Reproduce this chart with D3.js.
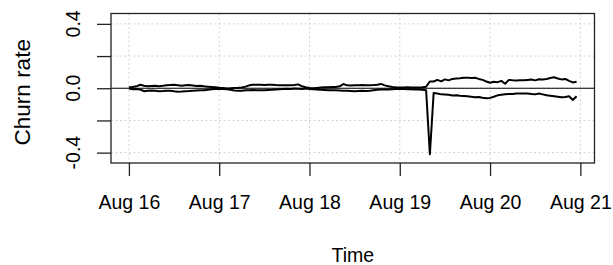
<!DOCTYPE html>
<html>
<head>
<meta charset="utf-8">
<script src="https://cdn.jsdelivr.net/npm/d3@7"></script>
<style>
  body { margin: 0; background: #fff; }
  text { font-family: "Liberation Sans", Arial, Helvetica, sans-serif; fill: #000; }
</style>
</head>
<body>
<div id="chart"></div>
<script>
// hourly churn rate, Aug 16 00:00 onwards
const startTime = "2018-08-16T00:00:00Z"

const churnUp = [
  0.004, 0.008, 0.012, 0.022, 0.016, 0.012, 0.014, 0.016, 0.013, 0.015, 0.018, 0.020,
  0.021, 0.019, 0.016, 0.018, 0.020, 0.017, 0.014, 0.015, 0.012, 0.010, 0.008, 0.006,
  0.003, 0.001, -0.001, 0.000, 0.002, 0.003, 0.005, 0.010, 0.018, 0.022, 0.021, 0.022,
  0.020, 0.021, 0.022, 0.020, 0.019, 0.018, 0.019, 0.018, 0.020, 0.024, 0.012, 0.006,
  0.002, 0.000, 0.002, 0.004, 0.006, 0.006, 0.007, 0.008, 0.012, 0.026, 0.018, 0.017,
  0.019, 0.018, 0.020, 0.018, 0.019, 0.020, 0.022, 0.027, 0.018, 0.012, 0.008, 0.006,
  0.005, 0.004, 0.006, 0.004, 0.005, 0.004, 0.006, 0.010,
  0.042, 0.042, 0.052, 0.043, 0.055, 0.049, 0.058, 0.061, 0.062, 0.065, 0.066, 0.063,
  0.065, 0.058, 0.052, 0.042, 0.034, 0.040, 0.038, 0.046, 0.028, 0.052, 0.049, 0.048,
  0.049, 0.050, 0.052, 0.054, 0.049, 0.056, 0.055, 0.058, 0.064, 0.068, 0.061, 0.055,
  0.058, 0.046, 0.036, 0.041
]

const churnDown = [
  -0.002, -0.006, -0.004, -0.008, -0.018, -0.016, -0.014, -0.016, -0.018, -0.017, -0.015, -0.016,
  -0.019, -0.021, -0.020, -0.018, -0.017, -0.015, -0.014, -0.013, -0.012, -0.010, -0.006, -0.004,
  -0.003, -0.004, -0.006, -0.010, -0.014, -0.016, -0.015, -0.012, -0.012, -0.011, -0.012, -0.013,
  -0.012, -0.011, -0.010, -0.008, -0.006, -0.004, -0.003, -0.004, -0.002, -0.003, -0.004, -0.002,
  -0.004, -0.006, -0.008, -0.010, -0.011, -0.012, -0.012, -0.013, -0.014, -0.015, -0.016, -0.017,
  -0.018, -0.017, -0.016, -0.017, -0.016, -0.013, -0.010, -0.008, -0.007, -0.008, -0.006, -0.004,
  -0.004, -0.005, -0.006, -0.006, -0.007, -0.008, -0.010, -0.012,
  -0.410, -0.030, -0.033, -0.038, -0.039, -0.041, -0.045, -0.044, -0.047, -0.048, -0.050, -0.053,
  -0.056, -0.054, -0.059, -0.062, -0.060, -0.053, -0.044, -0.041, -0.038, -0.035, -0.036, -0.033,
  -0.032, -0.033, -0.032, -0.036, -0.038, -0.033, -0.038, -0.044, -0.047, -0.050, -0.053, -0.056,
  -0.054, -0.050, -0.073, -0.050
]

const dayTicks = ["2018-08-16", "2018-08-17", "2018-08-18", "2018-08-19", "2018-08-20", "2018-08-21"]
const yTicks = [-0.4, -0.2, 0, 0.2, 0.4]
const yTickLabels = ["-0.4", "", "0.0", "", "0.4"]
const yLimits = [-0.43, 0.43]

const dimensions = {
  width: 613,
  height: 265,
  margin: { top: 13.5, right: 18.5, bottom: 102, left: 111 }
}
dimensions.boundedWidth = dimensions.width - dimensions.margin.left - dimensions.margin.right
dimensions.boundedHeight = dimensions.height - dimensions.margin.top - dimensions.margin.bottom

const t0 = new Date(startTime).getTime()
const timeAccessor = (d, i) => new Date(t0 + i * 3600 * 1000)
const times = churnUp.map((d, i) => timeAccessor(d, i))

const wrapper = d3.select("#chart")
  .append("svg")
  .attr("width", dimensions.width)
  .attr("height", dimensions.height)

const bounds = wrapper.append("g")
  .attr("transform", `translate(${dimensions.margin.left},${dimensions.margin.top})`)

// R style 4% padding on both axes
const tExtent = d3.extent(times)
const tPad = (tExtent[1] - tExtent[0]) * 0.04
const xScale = d3.scaleUtc()
  .domain([new Date(+tExtent[0] - tPad), new Date(+tExtent[1] + tPad)])
  .range([0, dimensions.boundedWidth])

const yPad = (yLimits[1] - yLimits[0]) * 0.04
const yScale = d3.scaleLinear()
  .domain([yLimits[0] - yPad, yLimits[1] + yPad])
  .range([dimensions.boundedHeight, 0])

const tickDates = dayTicks.map(d => new Date(d + "T00:00:00Z"))

// grid
const gridColor = "#d3d3d3"
bounds.selectAll(".grid-x")
  .data(tickDates)
  .join("line")
    .attr("x1", d => xScale(d))
    .attr("x2", d => xScale(d))
    .attr("y1", 0)
    .attr("y2", dimensions.boundedHeight)
    .attr("stroke", gridColor)
    .attr("stroke-dasharray", "2,2.5")

bounds.selectAll(".grid-y")
  .data(yTicks)
  .join("line")
    .attr("x1", 0)
    .attr("x2", dimensions.boundedWidth)
    .attr("y1", d => yScale(d))
    .attr("y2", d => yScale(d))
    .attr("stroke", gridColor)
    .attr("stroke-dasharray", "2,2.5")

// zero line
bounds.append("line")
  .attr("x1", 0)
  .attr("x2", dimensions.boundedWidth)
  .attr("y1", yScale(0))
  .attr("y2", yScale(0))
  .attr("stroke", "#000")
  .attr("stroke-width", 1.1)

// series
const lineGenerator = d3.line()
  .x((d, i) => xScale(times[i]))
  .y(d => yScale(d))

;[churnUp, churnDown].forEach(series => {
  bounds.append("path")
    .datum(series)
    .attr("d", lineGenerator)
    .attr("fill", "none")
    .attr("stroke", "#000")
    .attr("stroke-width", 2)
    .attr("stroke-linejoin", "round")
})

// box
bounds.append("rect")
  .attr("width", dimensions.boundedWidth)
  .attr("height", dimensions.boundedHeight)
  .attr("fill", "none")
  .attr("stroke", "#222")
  .attr("stroke-width", 1.3)

// axes
const xAxisGenerator = d3.axisBottom(xScale)
  .tickValues(tickDates)
  .tickSize(13)
  .tickPadding(20)
  .tickFormat(d3.utcFormat("%b %d"))

const xAxis = bounds.append("g")
  .attr("transform", `translate(0,${dimensions.boundedHeight})`)
  .call(xAxisGenerator)
xAxis.select(".domain").remove()
xAxis.selectAll("line").attr("stroke", "#222").attr("stroke-width", 1.3)
xAxis.selectAll("text")
  .attr("y", 0)
  .attr("dy", 0)
  .attr("transform", "translate(0,46)")
  .style("font-family", "'Liberation Sans', Arial, sans-serif")
  .style("font-size", "19.5px")
  .attr("fill", "#000")

const yAxisGenerator = d3.axisLeft(yScale)
  .tickValues(yTicks)
  .tickSize(14)
  .tickFormat("")

const yAxis = bounds.append("g").call(yAxisGenerator)
yAxis.select(".domain").remove()
yAxis.selectAll("line").attr("stroke", "#222").attr("stroke-width", 1.3)

bounds.selectAll(".y-label")
  .data(yTicks)
  .join("text")
    .attr("class", "y-label")
    .text((d, i) => yTickLabels[i])
    .attr("transform", d => `translate(-31,${yScale(d)}) rotate(-90)`)
    .attr("text-anchor", "middle")
    .style("font-size", "19.5px")

// axis titles
wrapper.append("text")
  .text("Time")
  .attr("x", dimensions.margin.left + dimensions.boundedWidth / 2)
  .attr("y", 261.5)
  .attr("text-anchor", "middle")
  .style("font-size", "19.5px")

wrapper.append("text")
  .text("Churn rate")
  .attr("transform", `translate(30,${dimensions.margin.top + dimensions.boundedHeight / 2 + 4}) rotate(-90)`)
  .attr("text-anchor", "middle")
  .style("font-size", "22.5px")
</script>
</body>
</html>
